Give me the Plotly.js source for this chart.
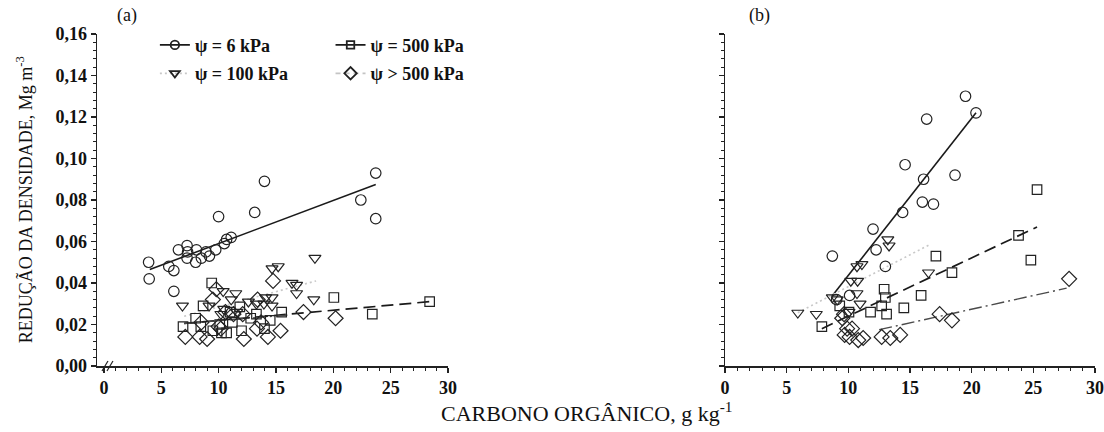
<!DOCTYPE html>
<html>
<head>
<meta charset="utf-8">
<script src="https://cdn.plot.ly/plotly-3.0.1.min.js"></script>
<style>html,body{margin:0;padding:0;background:#fff;}#chart{width:1104px;height:432px;}</style>
</head>
<body>
<div id="chart"></div>
<script>
// ---------- DATA ----------
// Panel (a)
var a6_x = [3.9, 3.95, 5.66, 6.1, 6.1, 6.5, 7.25, 7.3, 7.25, 8.07, 8.0, 8.5, 8.9, 9.2, 9.75, 10.0, 10.5, 10.7, 11.1, 13.15, 14.0, 22.4, 23.7, 23.7];
var a6_y = [0.050, 0.042, 0.048, 0.046, 0.036, 0.056, 0.058, 0.055, 0.052, 0.056, 0.050, 0.052, 0.055, 0.053, 0.056, 0.072, 0.059, 0.061, 0.062, 0.074, 0.089, 0.080, 0.093, 0.071];
var a100_x = [6.85, 9.17, 10.4, 11.5, 11.1, 10.45, 12.6, 13.3, 14.1, 14.66, 14.66, 15.2, 16.4, 16.8, 16.8, 14.66, 18.4, 18.3, 13.95, 11.6, 10.2];
var a100_y = [0.029, 0.029, 0.036, 0.035, 0.032, 0.0275, 0.031, 0.030, 0.033, 0.033, 0.047, 0.048, 0.040, 0.039, 0.035, 0.029, 0.052, 0.032, 0.030, 0.026, 0.025];
var a500_x = [9.4, 8.65, 6.9, 8.0, 8.45, 9.5, 10.25, 10.7, 10.1, 11.2, 11.85, 12.0, 12.8, 14.0, 14.5, 15.5, 20.05, 23.4, 28.4, 11.0, 13.3];
var a500_y = [0.040, 0.029, 0.019, 0.023, 0.019, 0.017, 0.016, 0.016, 0.020, 0.021, 0.0285, 0.017, 0.023, 0.018, 0.022, 0.026, 0.033, 0.025, 0.031, 0.026, 0.025];
var aGt_x = [7.1, 8.35, 9.0, 8.5, 9.5, 9.8, 10.2, 10.6, 11.3, 12.2, 12.1, 13.4, 13.35, 13.7, 14.3, 14.75, 15.4, 17.4, 20.2, 10.0];
var aGt_y = [0.014, 0.014, 0.013, 0.021, 0.032, 0.037, 0.018, 0.026, 0.025, 0.013, 0.025, 0.032, 0.018, 0.021, 0.014, 0.041, 0.017, 0.026, 0.023, 0.019];
// fitted lines (a)
var a6_fit_x = [4.0, 23.7],   a6_fit_y = [0.0465, 0.0875];
var a100_fit_x = [7.0, 18.5], a100_fit_y = [0.024, 0.041];
var a500_fit_x = [7.0, 28.4], a500_fit_y = [0.0205, 0.031];
var aGt_fit_x = [7.0, 16.0],  aGt_fit_y = [0.0205, 0.0245];

// Panel (b)
var b6_x = [19.5, 20.35, 16.35, 14.6, 16.1, 18.65, 16.0, 16.9, 14.4, 12.0, 12.25, 8.7, 13.0, 10.1, 9.05];
var b6_y = [0.130, 0.122, 0.119, 0.097, 0.090, 0.092, 0.079, 0.078, 0.074, 0.066, 0.056, 0.053, 0.048, 0.034, 0.032];
var b100_x = [13.2, 13.3, 10.7, 11.1, 10.2, 10.75, 16.5, 8.7, 10.7, 10.95, 10.05, 5.9, 7.4, 9.1];
var b100_y = [0.061, 0.058, 0.048, 0.049, 0.041, 0.041, 0.045, 0.033, 0.035, 0.030, 0.026, 0.0256, 0.025, 0.032];
var b500_x = [25.3, 23.8, 24.8, 17.1, 18.4, 15.9, 12.9, 13.0, 12.7, 13.1, 14.5, 11.8, 10.05, 9.3, 7.85];
var b500_y = [0.085, 0.063, 0.051, 0.053, 0.045, 0.034, 0.037, 0.033, 0.029, 0.025, 0.028, 0.026, 0.026, 0.029, 0.019];
var bGt_x = [27.9, 17.4, 18.4, 14.2, 13.4, 12.7, 11.2, 10.8, 10.1, 9.7, 10.3, 9.9, 9.5, 9.65];
var bGt_y = [0.042, 0.025, 0.022, 0.015, 0.0135, 0.014, 0.0135, 0.0125, 0.014, 0.015, 0.018, 0.018, 0.023, 0.025];
// fitted lines (b)
var b6_fit_x = [8.65, 20.35],  b6_fit_y = [0.0335, 0.122];
var b100_fit_x = [5.9, 16.6],  b100_fit_y = [0.0257, 0.0585];
var b500_fit_x = [7.85, 25.3], b500_fit_y = [0.018, 0.067];
var bGt_fit_x = [12.5, 27.7],  bGt_fit_y = [0.0175, 0.0375];

// Series names and ticks
var seriesNames = ['\u03c8 = 6 kPa', '\u03c8 = 100 kPa', '\u03c8 = 500 kPa', '\u03c8 > 500 kPa'];
var xTickVals = [0, 5, 10, 15, 20, 25, 30];
var xTickText = ['0', '5', '10', '15', '20', '25', '30'];
var yTickVals = [0, 0.02, 0.04, 0.06, 0.08, 0.10, 0.12, 0.14, 0.16];
var yTickText = ['0,00', '0,02', '0,04', '0,06', '0,08', '0,10', '0,12', '0,14', '0,16'];

// ---------- STYLES ----------
var FONT = 'Liberation Serif, Times New Roman, serif';
var INK = '#222';
var symbols = ['circle-open', 'triangle-down-open', 'square-open', 'diamond-open'];
var msize = [10.5, 10.5, 9.5, 11.5];
var lineStyles = [
  {color: '#1a1a1a', width: 1.6, dash: 'solid'},
  {color: '#c8c8c8', width: 1.6, dash: '2px,3px'},
  {color: '#1a1a1a', width: 1.7, dash: '12px,6px'},
  {color: '#4a4a4a', width: 1.4, dash: '13px,4px,2px,4px'}
];

var panels = [
  {xa: 'x', ya: 'y', pts: [[a6_x, a6_y], [a100_x, a100_y], [a500_x, a500_y], [aGt_x, aGt_y]],
   fits: [[a6_fit_x, a6_fit_y], [a100_fit_x, a100_fit_y], [a500_fit_x, a500_fit_y], [aGt_fit_x, aGt_fit_y]]},
  {xa: 'x2', ya: 'y2', pts: [[b6_x, b6_y], [b100_x, b100_y], [b500_x, b500_y], [bGt_x, bGt_y]],
   fits: [[b6_fit_x, b6_fit_y], [b100_fit_x, b100_fit_y], [b500_fit_x, b500_fit_y], [bGt_fit_x, bGt_fit_y]]}
];

var traces = [];
panels.forEach(function (p) {
  for (var i = 0; i < 4; i++) {
    traces.push({x: p.fits[i][0], y: p.fits[i][1], xaxis: p.xa, yaxis: p.ya, mode: 'lines',
      line: lineStyles[i], showlegend: false, hoverinfo: 'skip'});
  }
  for (var j = 0; j < 4; j++) {
    traces.push({x: p.pts[j][0], y: p.pts[j][1], xaxis: p.xa, yaxis: p.ya, mode: 'markers',
      marker: {symbol: symbols[j], size: msize[j], color: INK, line: {width: 1.2, color: INK}},
      showlegend: false, name: seriesNames[j]});
  }
});
// legend entries (line + symbol)
var legendOf = ['legend', 'legend', 'legend2', 'legend2'];
for (var k = 0; k < 4; k++) {
  traces.push({x: [null], y: [null], xaxis: 'x', yaxis: 'y', mode: 'lines+markers', name: seriesNames[k],
    legend: legendOf[k], legendgroup: 'g' + k, showlegend: true,
    line: {color: k === 1 ? '#c8c8c8' : (k === 3 ? '#c4c4c4' : '#1a1a1a'), width: 1.7, dash: k === 1 ? '2px,3px' : (k === 3 ? '5px,4px' : 'solid')},
    marker: {symbol: symbols[k], size: msize[k] - 2, color: INK, line: {width: 1.8, color: INK}}});
}

var tickFont = {family: FONT, size: 18, color: '#111', weight: 'bold'};
function xAxis(domain, range, anchor) {
  return {domain: domain, range: range, anchor: anchor, tickmode: 'array', tickvals: xTickVals, ticktext: xTickText,
    ticks: 'outside', ticklen: 5, tickwidth: 1.3, tickcolor: INK, showline: true, linecolor: INK, linewidth: 1.5,
    showgrid: false, zeroline: false, tickfont: tickFont, ticklabeloverflow: 'allow',
    minor: {ticks: 'outside', ticklen: 3, tickwidth: 1, tickcolor: INK, dtick: 1, tick0: 0, showgrid: false}};
}
function yAxis(anchor, showLabels) {
  return {domain: [0, 1], range: [0, 0.16], anchor: anchor, tickmode: 'array', tickvals: yTickVals, ticktext: yTickText,
    showticklabels: showLabels, ticks: 'outside', ticklen: 5, tickwidth: 1.3, tickcolor: INK,
    showline: true, linecolor: INK, linewidth: 1.5, showgrid: false, zeroline: false, tickfont: tickFont, ticklabeloverflow: 'allow',
    minor: {ticks: 'outside', ticklen: 3, tickwidth: 1, tickcolor: INK, dtick: 0.004, tick0: 0, showgrid: false}};
}

var legFont = {family: FONT, size: 18, color: '#111', weight: 'bold'};
var layout = {
  width: 1104, height: 432,
  margin: {l: 97, r: 9, t: 34, b: 66, pad: 0},
  paper_bgcolor: '#ffffff', plot_bgcolor: '#ffffff',
  font: {family: FONT, color: '#111'},
  xaxis: xAxis([0, 0.3517], [-0.6, 30], 'y'),
  yaxis: yAxis('x', true),
  xaxis2: xAxis([0.6293, 1], [0, 30], 'y2'),
  yaxis2: yAxis('x2', false),
  legend: {x: 0.058, y: 1.022, xanchor: 'left', yanchor: 'top', bgcolor: 'rgba(0,0,0,0)',
    font: legFont, tracegroupgap: 2, traceorder: 'grouped', itemwidth: 30},
  legend2: {x: 0.234, y: 1.022, xanchor: 'left', yanchor: 'top', bgcolor: 'rgba(0,0,0,0)',
    font: legFont, tracegroupgap: 2, traceorder: 'grouped', itemwidth: 30},
  annotations: [
    {text: '(a)', xref: 'paper', yref: 'paper', x: 0.030, y: 1.057, showarrow: false, xanchor: 'center', yanchor: 'middle',
      font: {family: FONT, size: 18, color: '#111'}},
    {text: '(b)', xref: 'paper', yref: 'paper', x: 0.664, y: 1.057, showarrow: false, xanchor: 'center', yanchor: 'middle',
      font: {family: FONT, size: 18, color: '#111'}},
    {text: 'REDUÇÃO DA DENSIDADE, Mg m<sup>-3</sup>', xref: 'paper', yref: 'paper', x: -0.073, y: 0.5, textangle: -90,
      showarrow: false, xanchor: 'center', yanchor: 'middle', font: {family: FONT, size: 18, color: '#111'}},
    {text: 'CARBONO ORGÂNICO, g kg<sup>-1</sup>', xref: 'paper', yref: 'paper', x: 0.491, y: -0.1386,
      showarrow: false, xanchor: 'center', yanchor: 'middle', font: {family: FONT, size: 22, color: '#111'}}
  ],
  shapes: [
    {type: 'line', xref: 'paper', yref: 'paper', x0: 0.0050, y0: -0.0151, x1: 0.0110, y1: 0.0151, line: {color: INK, width: 1.2}},
    {type: 'line', xref: 'paper', yref: 'paper', x0: 0.0100, y0: -0.0151, x1: 0.0160, y1: 0.0151, line: {color: INK, width: 1.2}}
  ]
};

Plotly.newPlot('chart', traces, layout, {staticPlot: true, displayModeBar: false});
</script>
</body>
</html>
